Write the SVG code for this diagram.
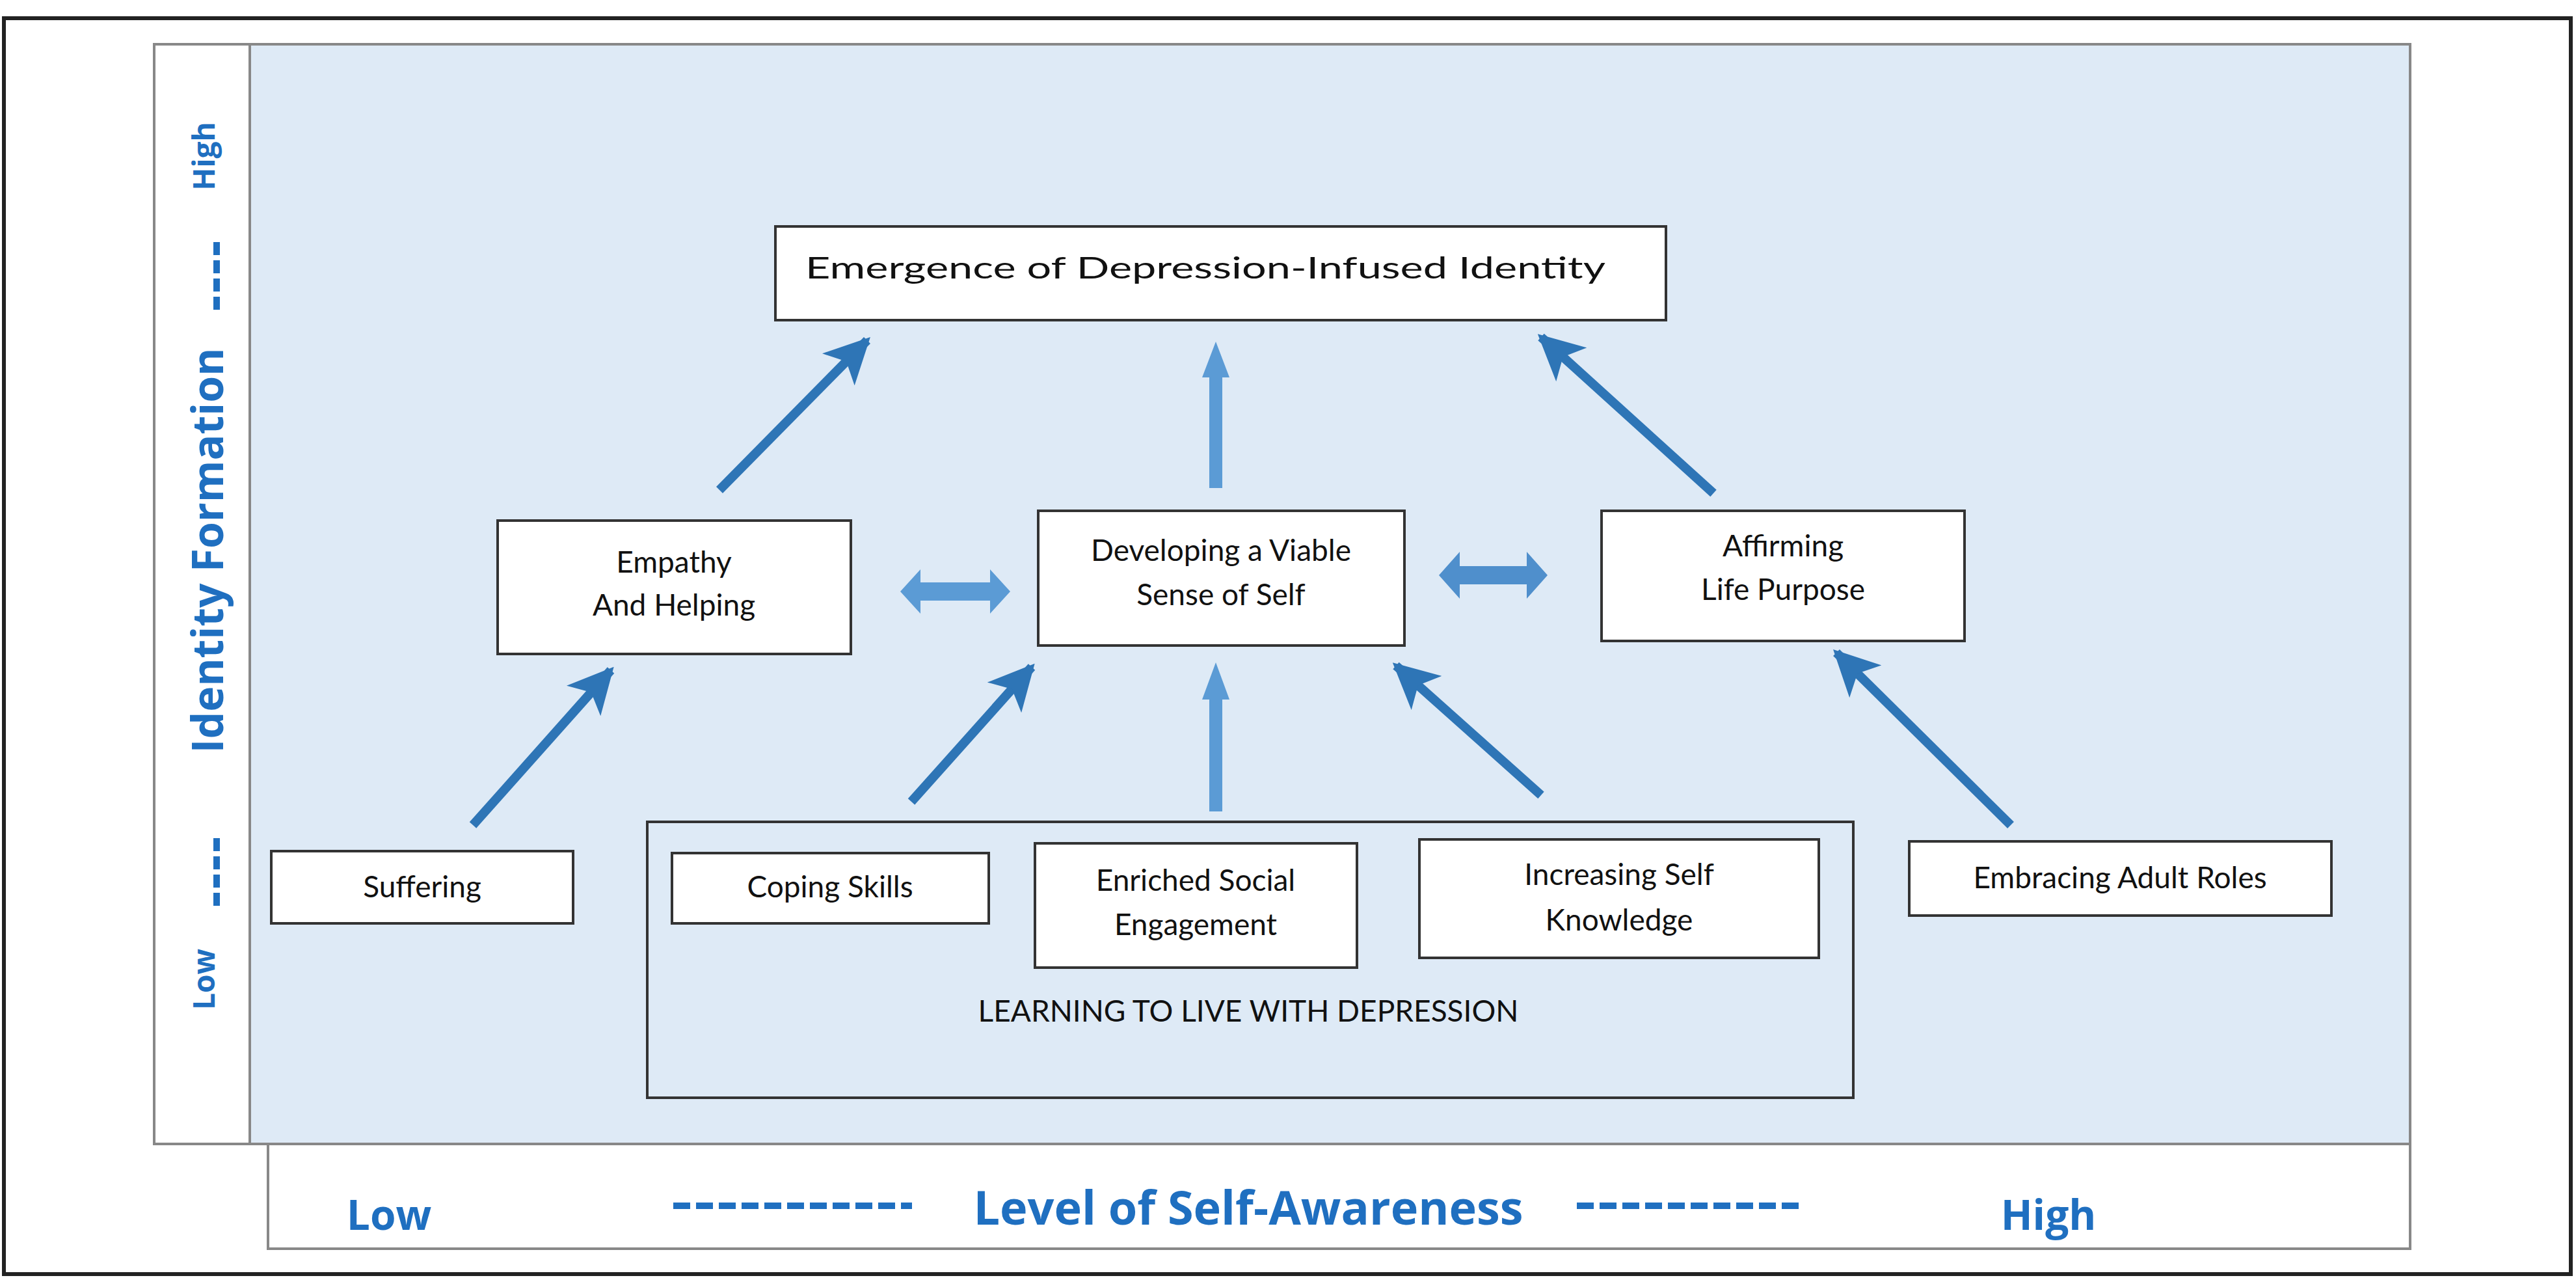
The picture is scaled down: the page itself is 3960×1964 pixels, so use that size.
<svg xmlns="http://www.w3.org/2000/svg" width="3960" height="1964" viewBox="0 0 3960 1964">
<style>
.box{fill:#fff;stroke:#333;stroke-width:4}
.t{font-family:Lato,"Liberation Sans",sans-serif;font-size:46px;fill:#111;text-anchor:middle}
.ax{font-family:"Open Sans","DejaVu Sans",sans-serif;font-weight:bold;fill:#1f6fc0;text-anchor:middle}
.dk{stroke:#2e75b6;stroke-width:14;fill:none}
.dash{stroke:#1f6fc0;stroke-width:10;stroke-dasharray:26 9}
</style>
<defs>
<marker id="ah" viewBox="0 0 10 10" refX="9" refY="5" markerWidth="5" markerHeight="5" orient="auto" markerUnits="strokeWidth">
<path d="M0,0 L10,5 L0,10 L2.5,5 Z" fill="#2e75b6"/>
</marker>
</defs>
<rect width="3960" height="1964" fill="#fff"/>
<rect x="6" y="28" width="3946" height="1930" fill="none" stroke="#222" stroke-width="6"/>
<g id="axes">
<rect x="237" y="68" width="147" height="1690" fill="#fff" stroke="#888" stroke-width="4"/>
<rect x="384" y="68" width="3321" height="1690" fill="#deeaf6" stroke="#888" stroke-width="4"/>
<rect x="412" y="1758" width="3293" height="161" fill="#fff" stroke="#888" stroke-width="4"/>
<text class="ax" font-size="46" transform="translate(330,240) rotate(-90)">High</text>
<line class="dash" x1="333" y1="372" x2="333" y2="480" style="stroke-dasharray:20 8"/>
<text class="ax" font-size="66" transform="translate(343,846) rotate(-90)">Identity Formation</text>
<line class="dash" x1="333" y1="1288" x2="333" y2="1398" style="stroke-dasharray:20 8"/>
<text class="ax" font-size="46" transform="translate(330,1505) rotate(-90)">Low</text>
<text class="ax" font-size="64" x="598" y="1890">Low</text>
<line class="dash" x1="1035" y1="1853" x2="1402" y2="1853"/>
<text class="ax" font-size="72" x="1919" y="1882">Level of Self-Awareness</text>
<line class="dash" x1="2424" y1="1853" x2="2765" y2="1853"/>
<text class="ax" font-size="64" x="3149" y="1890">High</text>
</g>
<g id="learning">
<rect x="995" y="1263" width="1854" height="424" fill="none" stroke="#333" stroke-width="4"/>
<text class="t" x="1919" y="1570" font-size="40">LEARNING TO LIVE WITH DEPRESSION</text>
</g>
<g id="emergence"><rect class="box" x="1192" y="348" width="1369" height="144" stroke-width="6"/><text class="t" x="1853" y="428" font-size="60" textLength="1230" lengthAdjust="spacingAndGlyphs">Emergence of Depression-Infused Identity</text></g>
<g id="empathy"><rect class="box" x="765" y="800" width="543" height="205"/><text class="t" x="1036" y="880">Empathy</text><text class="t" x="1036" y="946">And Helping</text></g>
<g id="developing"><rect class="box" x="1596" y="785" width="563" height="207"/><text class="t" x="1877" y="862">Developing a Viable</text><text class="t" x="1877" y="930">Sense of Self</text></g>
<g id="affirming"><rect class="box" x="2462" y="785" width="558" height="200"/><text class="t" x="2741" y="855">Affirming</text><text class="t" x="2741" y="922">Life Purpose</text></g>
<g id="suffering"><rect class="box" x="417" y="1308" width="464" height="111"/><text class="t" x="649" y="1379">Suffering</text></g>
<g id="coping"><rect class="box" x="1033" y="1311" width="487" height="108"/><text class="t" x="1276" y="1379">Coping Skills</text></g>
<g id="enriched"><rect class="box" x="1591" y="1296" width="495" height="191"/><text class="t" x="1838" y="1369">Enriched Social</text><text class="t" x="1838" y="1437">Engagement</text></g>
<g id="increasing"><rect class="box" x="2182" y="1290" width="614" height="182"/><text class="t" x="2489" y="1360">Increasing Self</text><text class="t" x="2489" y="1430">Knowledge</text></g>
<g id="embracing"><rect class="box" x="2935" y="1293" width="649" height="114"/><text class="t" x="3259" y="1365">Embracing Adult Roles</text></g>
<g id="connectors">
<line class="dk" x1="1106" y1="753" x2="1333" y2="523" marker-end="url(#ah)"/>
<line class="dk" x1="2634" y1="758" x2="2369" y2="518" marker-end="url(#ah)"/>
<line class="dk" x1="727" y1="1268" x2="939" y2="1030" marker-end="url(#ah)"/>
<line class="dk" x1="1401" y1="1232" x2="1586" y2="1025" marker-end="url(#ah)"/>
<line class="dk" x1="2369" y1="1222" x2="2146" y2="1023" marker-end="url(#ah)"/>
<line class="dk" x1="3091" y1="1268" x2="2823" y2="1003" marker-end="url(#ah)"/>
<path d="M1859,750 V580 H1848 L1869,525 L1890,580 H1879 V750 Z" fill="#5b9bd5"/>
<path d="M1859,1247 V1075 H1848 L1869,1018 L1890,1075 H1879 V1247 Z" fill="#5b9bd5"/>
<path d="M1384,909 L1415,875 V895 H1522 V875 L1553,909 L1522,943 V923 H1415 V943 Z" fill="#5b9bd5"/>
<path d="M2212,884 L2244,848 V870 H2347 V848 L2379,884 L2347,920 V898 H2244 V920 Z" fill="#4f8fcc"/>
</g>
</svg>
